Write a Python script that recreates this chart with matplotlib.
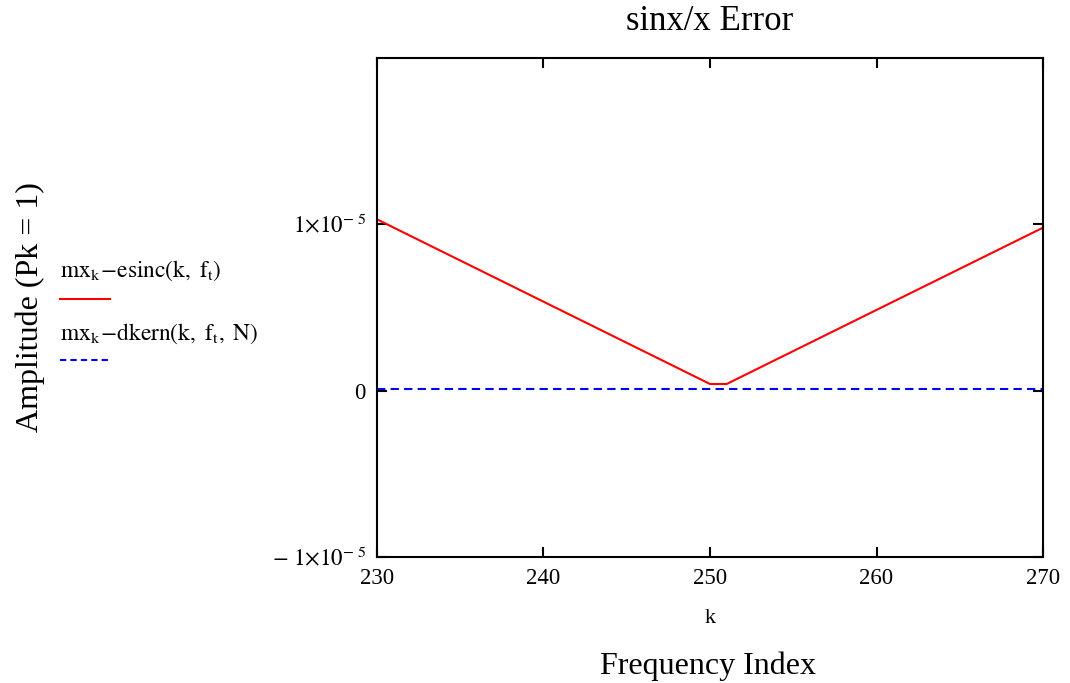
import matplotlib
matplotlib.use('Agg')
import matplotlib.pyplot as plt
from matplotlib.lines import Line2D

plt.rcParams['font.family'] = ['Liberation Serif', 'DejaVu Serif']
plt.rcParams['mathtext.fontset'] = 'stix'

# data
k_esinc = [230, 250, 251, 270]
err_esinc = [1.03e-5, 0.04e-5, 0.04e-5, 0.98e-5]
k_dkern = [230, 270]
err_dkern = [0.01e-5, 0.01e-5]

xticks = [230, 240, 250, 260, 270]
yticks = [-1e-5, 0, 1e-5]
ytick_labels = [r'$-\ 1{\times}10^{-\ 5}$', '0', r'$1{\times}10^{-\ 5}$']

fig = plt.figure(figsize=(10.7, 6.83), dpi=100)
ax = fig.add_axes([0.3523, 0.1845, 0.6225, 0.7306])

ax.plot(k_esinc, err_esinc, color='red', lw=1.5)
ax.plot(k_dkern, err_dkern, color='blue', lw=1.5, ls=(0, (4, 2.5)))

ax.set_xlim(230, 270)
ax.set_ylim(-1e-5, 2e-5)
ax.set_xticks(xticks)
ax.set_yticks(yticks)
ax.set_yticklabels(ytick_labels)
ax.tick_params(direction='in', length=7, width=1.5, labelsize=16.5,
               top=True, right=True, pad=8)
for s in ax.spines.values():
    s.set_linewidth(1.5)

ax.set_title('sinx/x Error', fontsize=25, pad=20)
ax.set_xlabel('k', fontsize=16, labelpad=14)
fig.text(0.662, 0.024, 'Frequency Index', fontsize=23, ha='center', va='center')
fig.text(0.028, 0.55, 'Amplitude (Pk = 1)', fontsize=23, rotation=90,
         ha='center', va='center')

# legend drawn by hand, label above the line sample
fig.text(0.056, 0.603, r'$\mathrm{mx_k\!-\!esinc}\left(\mathrm{k,\ f_t}\right)$',
         fontsize=16.8, ha='left', va='center')
fig.add_artist(Line2D([0.056, 0.103], [0.562, 0.562], color='red', lw=1.5,
                      transform=fig.transFigure))
fig.text(0.056, 0.512, r'$\mathrm{mx_k\!-\!dkern}\left(\mathrm{k,\ f_t,\ N}\right)$',
         fontsize=16.8, ha='left', va='center')
fig.add_artist(Line2D([0.056, 0.103], [0.473, 0.473], color='blue', lw=1.5,
                      ls=(0, (3, 2)), transform=fig.transFigure))

fig.savefig('out.png', dpi=100)
